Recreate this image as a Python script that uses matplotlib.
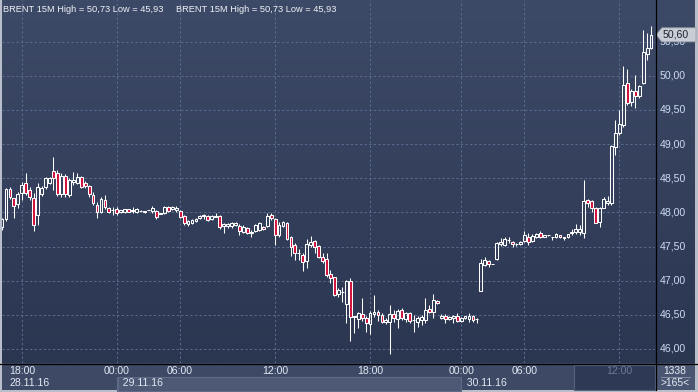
import numpy as np
import matplotlib
matplotlib.use('Agg')
import matplotlib.pyplot as plt
from matplotlib.patches import Rectangle, Polygon
from matplotlib.colors import LinearSegmentedColormap
from matplotlib.transforms import blended_transform_factory

# ---------------- data (BRENT 15M candles) ----------------
opens = [47.78, 47.90, 48.35, 48.21, 48.12, 48.28, 48.43, 48.33, 48.21, 47.96,
         48.27, 48.37, 48.43, 48.60, 48.58, 48.27, 48.53, 48.25, 48.45, 48.43,
         48.52, 48.43, 48.39, 48.25, 48.11, 48.01, 48.18, 48.06, 48.03, 48.05,
         48.01, 48.01, 48.05, 48.03, 48.01, 48.02, 48.02, 48.04, 48.02, 48.02,
         47.98, 47.99, 48.08, 48.05, 48.03, 48.02, 47.95, 47.83, 47.84, 47.87,
         47.92, 47.95, 47.95, 47.90, 47.93, 47.95, 47.80, 47.80, 47.80, 47.82,
         47.80, 47.71, 47.77, 47.71, 47.73, 47.74, 47.79, 47.80, 47.96, 47.90,
         47.67, 47.80, 47.84, 47.64, 47.52, 47.41, 47.38, 47.29, 47.52, 47.58,
         47.51, 47.35, 47.32, 47.10, 47.05, 46.81, 46.83, 46.66, 47.00, 46.48,
         46.44, 46.51, 46.45, 46.37, 46.51, 46.54, 46.50, 46.40, 46.40, 46.51,
         46.44, 46.57, 46.44, 46.53, 46.42, 46.40, 46.42, 46.42, 46.59, 46.54,
         46.70, 46.45, 46.48, 46.44, 46.45, 46.48, 46.41, 46.45, 46.44, 46.48,
         46.44, 46.85, 47.23, 47.29, 47.24, 47.32, 47.54, 47.52, 47.59, 47.57,
         47.54, 47.54, 47.58, 47.64, 47.58, 47.64, 47.70, 47.64, 47.67, 47.64,
         47.64, 47.67, 47.64, 47.64, 47.70, 47.71, 47.71, 47.70, 48.18, 48.17,
         48.06, 47.86, 48.06, 48.14, 48.14, 48.96, 49.16, 49.28, 49.89, 49.62,
         49.78, 49.70, 49.89, 50.32, 50.41]
highs = [47.92, 48.36, 48.37, 48.21, 48.30, 48.45, 48.58, 48.37, 48.28, 48.43,
         48.39, 48.52, 48.52, 48.81, 48.62, 48.58, 48.56, 48.50, 48.59, 48.58,
         48.53, 48.46, 48.40, 48.30, 48.15, 48.23, 48.25, 48.08, 48.08, 48.08,
         48.04, 48.05, 48.05, 48.08, 48.06, 48.03, 48.02, 48.04, 48.09, 48.04,
         47.99, 48.09, 48.09, 48.09, 48.09, 48.04, 47.96, 47.89, 47.90, 47.92,
         47.96, 47.98, 47.96, 47.96, 47.99, 47.96, 47.84, 47.84, 47.86, 47.86,
         47.83, 47.82, 47.79, 47.74, 47.83, 47.86, 47.80, 47.99, 47.99, 47.92,
         47.86, 47.87, 47.86, 47.65, 47.55, 47.46, 47.41, 47.61, 47.65, 47.60,
         47.52, 47.41, 47.41, 47.16, 47.06, 46.89, 46.91, 47.01, 47.04, 46.49,
         46.54, 46.75, 46.48, 46.56, 46.79, 46.57, 46.53, 46.45, 46.64, 46.57,
         46.59, 46.60, 46.54, 46.54, 46.50, 46.48, 46.50, 46.75, 46.64, 46.81,
         46.72, 46.51, 46.51, 46.48, 46.50, 46.53, 46.47, 46.48, 46.53, 46.50,
         46.45, 47.32, 47.35, 47.30, 47.24, 47.57, 47.63, 47.64, 47.64, 47.58,
         47.55, 47.58, 47.73, 47.70, 47.68, 47.70, 47.73, 47.67, 47.67, 47.64,
         47.70, 47.67, 47.64, 47.68, 47.75, 47.83, 47.82, 48.47, 48.20, 48.18,
         48.08, 48.08, 48.23, 48.24, 48.99, 49.35, 49.50, 50.14, 50.10, 49.81,
         50.01, 49.87, 50.67, 50.63, 50.73]
lows = [47.74, 47.88, 48.20, 47.92, 48.06, 48.18, 48.25, 48.18, 47.73, 47.82,
        48.24, 48.34, 48.41, 48.33, 48.24, 48.23, 48.23, 48.23, 48.40, 48.41,
        48.36, 48.36, 48.23, 48.11, 47.92, 47.99, 48.05, 47.99, 47.96, 47.96,
        47.99, 47.99, 48.01, 47.99, 47.99, 48.02, 47.99, 48.03, 47.99, 47.90,
        47.98, 47.98, 48.01, 48.04, 48.01, 47.92, 47.82, 47.80, 47.83, 47.86,
        47.90, 47.90, 47.87, 47.89, 47.93, 47.76, 47.70, 47.77, 47.77, 47.80,
        47.67, 47.70, 47.68, 47.64, 47.71, 47.73, 47.74, 47.79, 47.89, 47.52,
        47.64, 47.79, 47.60, 47.36, 47.30, 47.30, 47.14, 47.19, 47.49, 47.41,
        47.33, 47.26, 47.05, 46.97, 46.78, 46.76, 46.69, 46.38, 46.12, 46.23,
        46.31, 46.41, 46.25, 46.22, 46.47, 46.41, 46.38, 46.37, 45.93, 46.40,
        46.31, 46.42, 46.40, 46.38, 46.25, 46.32, 46.35, 46.38, 46.53, 46.45,
        46.66, 46.44, 46.38, 46.42, 46.38, 46.40, 46.40, 46.44, 46.40, 46.40,
        46.38, 46.85, 47.22, 47.20, 47.24, 47.30, 47.51, 47.51, 47.55, 47.49,
        47.51, 47.52, 47.57, 47.52, 47.57, 47.63, 47.63, 47.64, 47.66, 47.60,
        47.63, 47.63, 47.60, 47.63, 47.67, 47.68, 47.67, 47.63, 48.08, 48.01,
        47.84, 47.79, 48.06, 48.11, 48.11, 48.84, 49.13, 49.25, 49.57, 49.56,
        49.53, 49.67, 49.88, 50.23, 50.39]
closes = [47.90, 48.34, 48.22, 48.09, 48.27, 48.40, 48.28, 48.23, 47.82, 48.37,
          48.36, 48.50, 48.50, 48.50, 48.27, 48.53, 48.27, 48.47, 48.47, 48.52,
          48.37, 48.39, 48.27, 48.14, 48.01, 48.20, 48.08, 48.01, 48.03, 47.99,
          48.04, 48.05, 48.01, 48.02, 48.05, 48.02, 48.01, 48.04, 48.06, 47.93,
          47.99, 48.08, 48.02, 48.08, 48.06, 47.93, 47.84, 47.87, 47.89, 47.90,
          47.95, 47.96, 47.89, 47.95, 47.95, 47.79, 47.83, 47.83, 47.84, 47.84,
          47.73, 47.79, 47.70, 47.70, 47.82, 47.84, 47.76, 47.95, 47.92, 47.67,
          47.82, 47.86, 47.61, 47.49, 47.41, 47.41, 47.27, 47.54, 47.57, 47.49,
          47.35, 47.29, 47.08, 47.04, 46.79, 46.86, 46.83, 47.00, 46.47, 46.47,
          46.53, 46.45, 46.38, 46.53, 46.54, 46.50, 46.40, 46.42, 46.51, 46.45,
          46.56, 46.45, 46.53, 46.41, 46.42, 46.45, 46.47, 46.57, 46.54, 46.72,
          46.67, 46.48, 46.44, 46.47, 46.48, 46.41, 46.45, 46.48, 46.48, 46.42,
          46.44, 47.26, 47.30, 47.24, 47.24, 47.55, 47.57, 47.61, 47.60, 47.54,
          47.54, 47.57, 47.67, 47.57, 47.65, 47.68, 47.64, 47.67, 47.67, 47.64,
          47.68, 47.64, 47.63, 47.68, 47.71, 47.76, 47.76, 48.17, 48.14, 48.06,
          47.84, 48.06, 48.20, 48.17, 48.97, 49.16, 49.29, 49.87, 49.60, 49.78,
          49.70, 49.85, 50.35, 50.41, 50.60]
bar_index = list(range(-1, 164))

price_ticks = [46.0, 46.5, 47.0, 47.5, 48.0, 48.5, 49.0, 49.5, 50.0, 50.5]
price_labels = ["46,00", "46,50", "47,00", "47,50", "48,00", "48,50",
                "49,00", "49,50", "50,00", "50,50"]
time_tick_index = [4, 28, 44, 68, 92, 115, 131, 155]
time_labels = ["18:00", "00:00", "06:00", "12:00", "18:00", "00:00", "06:00", "12:00"]
date_start_index = [-1, 28, 115]
date_labels = ["28.11.16", "29.11.16", "30.11.16"]
header_text = "BRENT 15M High = 50,73 Low = 45,93"
last_price = 50.60
last_label = "50,60"
info_top = "1338"
info_bottom = ">165<"

# ---------------- figure ----------------
W, H = 698, 392
plt.rcParams['font.family'] = ['Liberation Sans', 'DejaVu Sans']
fig = plt.figure(figsize=(W / 100, H / 100), dpi=100)
fig.patch.set_facecolor('#b8bfcb')

# background layer in pixel coordinates
bg = fig.add_axes([0, 0, 1, 1], zorder=0)
bg.set_xlim(0, W); bg.set_ylim(H, 0); bg.axis('off')
cmap = LinearSegmentedColormap.from_list('bgc', ['#3d4a67', '#2b3651'])
grad = np.linspace(0, 1, 256).reshape(-1, 1)
bg.imshow(grad, cmap=cmap, extent=(2, 695, 363, 0), aspect='auto',
          interpolation='bilinear', zorder=0)
bg.add_patch(Rectangle((2, 363), 693, 27, facecolor='#3e4a65', edgecolor='none', zorder=1))

# main chart axes
ax = fig.add_axes([2 / W, 29 / H, 653 / W, 363 / H], zorder=1)
ax.patch.set_alpha(0)
ax.set_xlim(-1.01, 164.0)
ax.set_ylim(45.795, 51.11)
ax.axis('off')

grid_kw = dict(color='#5a6a8c', lw=0.75, dashes=(2.2, 2.2), zorder=1)
for p in price_ticks:
    ax.axhline(p, **grid_kw)
for t in time_tick_index:
    ax.axvline(t, **grid_kw)

x = np.array(bar_index, dtype=float)
o = np.array(opens); h = np.array(highs); l = np.array(lows); c = np.array(closes)
body_lo = np.minimum(o, c); body_hi = np.maximum(o, c)
up = c >= o
ax.vlines(x, l, body_lo, color='white', lw=0.75, zorder=2)
ax.vlines(x, body_hi, h, color='white', lw=0.75, zorder=2)
ax.bar(x[up], (body_hi - body_lo)[up], bottom=body_lo[up], width=0.72,
       facecolor='none', edgecolor='white', linewidth=0.75, zorder=3)
ax.bar(x[~up], (body_hi - body_lo)[~up], bottom=body_lo[~up], width=0.72,
       facecolor='#d3123c', edgecolor='white', linewidth=0.75, zorder=3)

# overlay layer (pixel coordinates)
ov = fig.add_axes([0, 0, 1, 1], zorder=3)
ov.set_xlim(0, W); ov.set_ylim(H, 0); ov.axis('off'); ov.patch.set_alpha(0)

tx = blended_transform_factory(ax.transData, ov.transData)
ty = blended_transform_factory(ov.transData, ax.transData)

# header
hdr_kw = dict(color='#eef1f6', fontsize=6.7, va='center', ha='left')
ov.text(3, 9, header_text, **hdr_kw)
ov.text(176, 9, header_text, **hdr_kw)

# date bands
xd_px = [ov.transData.inverted().transform(ax.transData.transform((d, 0)))[0]
         for d in date_start_index]
ov.add_patch(Rectangle((xd_px[1], 376.5), xd_px[2] - xd_px[1], 14,
                       facecolor='#4d5975', edgecolor='#5e6a86', lw=0.8, zorder=1))
x_last = ov.transData.inverted().transform(ax.transData.transform((time_tick_index[-1], 0)))[0]
ov.add_patch(Rectangle((x_last - 45, 364.5), 655 - (x_last - 45), 25.5,
                       facecolor='#2e3a55', edgecolor='#56627e', lw=0.8, zorder=1))

# time labels
for t, lab in zip(time_tick_index, time_labels):
    col = '#6e7a96' if t == time_tick_index[-1] else '#e2e8f2'
    ov.text(t, 371, lab, transform=tx, ha='center', va='center',
            fontsize=7.6, color=col, zorder=4)
# date labels
ov.text(10, 383.5, date_labels[0], ha='left', va='center', fontsize=7.6, color='#e2e8f2', zorder=4)
for d, lab in zip(date_start_index[1:], date_labels[1:]):
    ov.text(d, 383.5, "  " + lab, transform=tx, ha='left', va='center',
            fontsize=7.6, color='#e2e8f2', zorder=4)

# price labels
for p, lab in zip(price_ticks, price_labels):
    ov.text(660, p, lab, transform=ty, ha='left', va='center',
            fontsize=7.6, color='#cddbf1', zorder=4)

# last price flag
y_last = ov.transData.inverted().transform(ax.transData.transform((0, last_price)))[1]
flag = Polygon([(656, y_last), (662, y_last - 7), (696, y_last - 7),
                (696, y_last + 7), (662, y_last + 7)], closed=True,
               facecolor='#c9cdd5', edgecolor='#9aa0aa', lw=0.6, zorder=5)
ov.add_patch(flag)
ov.text(663, y_last, last_label, ha='left', va='center', fontsize=7.6,
        color='#1c2230', zorder=6)

# bottom-right info cell
ov.add_patch(Rectangle((655.5, 363.5), 39.5, 26.5, facecolor='#4a5671',
                       edgecolor='none', zorder=1))
ov.plot([661, 690], [377, 377], color='#8e98ac', lw=0.6, zorder=4)
ov.text(675, 370.5, info_top, ha='center', va='center', fontsize=7.4, color='#e8ecf4', zorder=4)
ov.text(675, 383.5, info_bottom, ha='center', va='center', fontsize=7.4, color='#e8ecf4', zorder=4)

# separator lines
ov.plot([0, 698], [363.5, 363.5], color='black', lw=0.9, zorder=5)
ov.plot([655.5, 655.5], [0, 390], color='black', lw=0.9, zorder=5)
ov.plot([117.5, 117.5], [376.5, 390], color='#5e6a86', lw=0.8, zorder=4)

fig.savefig('out.png', dpi=100, facecolor=fig.get_facecolor())
